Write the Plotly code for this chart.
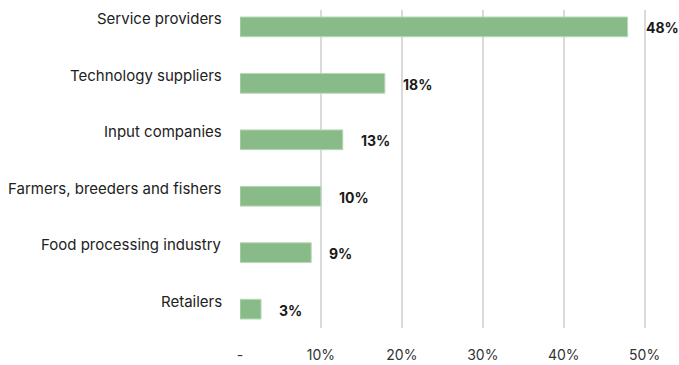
import plotly.graph_objects as go

categories = ["Service providers", "Technology suppliers", "Input companies",
              "Farmers, breeders and fishers", "Food processing industry", "Retailers"]
values = [47.9, 17.9, 12.7, 10.0, 8.8, 2.6]
value_labels = ["48%", "18%", "13%", "10%", "9%", "3%"]
tick_vals = [0, 10, 20, 30, 40, 50]
tick_text = ["-", "10%", "20%", "30%", "40%", "50%"]

FONT = "Inter, Lato, sans-serif"

fig = go.Figure()
fig.add_trace(go.Bar(
    x=values, y=categories, orientation="h",
    marker=dict(color="#88BB88", line=dict(color="#B8D8B8", width=1)),
    width=0.35, hoverinfo="skip",
))

for c, v, t in zip(categories, values, value_labels):
    fig.add_annotation(x=v, y=c, text="<b>" + t + "</b>", showarrow=False,
                       xanchor="left", xshift=16, yshift=-1,
                       font=dict(family=FONT, size=14, color="#1a1a1a"))
    fig.add_annotation(x=0, xref="paper", y=c, text=c, showarrow=False,
                       xanchor="right", xshift=-16, yshift=8,
                       font=dict(family=FONT, size=15, color="#222222"))

fig.update_layout(
    width=679, height=365,
    margin=dict(l=240, r=2, t=10, b=35),
    paper_bgcolor="white", plot_bgcolor="white",
    showlegend=False,
    xaxis=dict(range=[0, 54], tickvals=tick_vals, ticktext=tick_text,
               showgrid=True, gridcolor="#DADADA", gridwidth=2,
               zeroline=False, showline=False, ticks="",
               ticklabelstandoff=17,
               tickfont=dict(family=FONT, size=14, color="#333333")),
    yaxis=dict(categoryorder="array", categoryarray=categories,
               range=[5.334, -0.299], showticklabels=False,
               showgrid=False, zeroline=False, showline=False, ticks=""),
)

fig.write_html("out.html")
